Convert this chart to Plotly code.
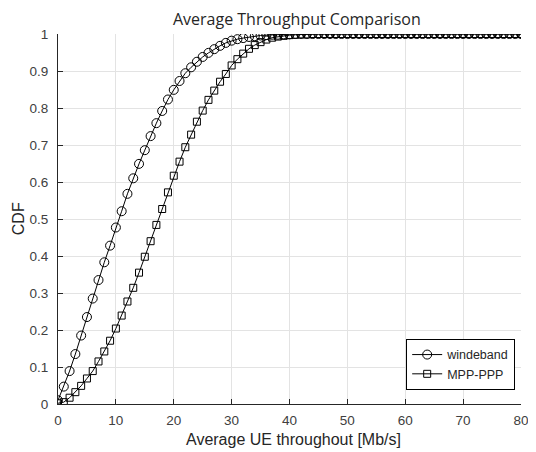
import plotly.graph_objects as go

x_vals = list(range(0, 81))

windeband = [0.010, 0.047, 0.089, 0.135, 0.185, 0.235, 0.285, 0.335, 0.383, 0.428,
             0.477, 0.521, 0.568, 0.610, 0.649, 0.686, 0.724, 0.759, 0.792, 0.823,
             0.849, 0.873, 0.894, 0.910, 0.925, 0.938, 0.949, 0.959, 0.968, 0.976,
             0.982, 0.986, 0.989, 0.992, 0.994, 0.996, 0.997, 0.998, 0.998, 0.999,
             0.999] + [1.0] * 40

mpp_ppp = [0.002, 0.005, 0.017, 0.032, 0.049, 0.069, 0.089, 0.115, 0.142, 0.171,
           0.204, 0.239, 0.277, 0.314, 0.355, 0.398, 0.440, 0.484, 0.527, 0.572,
           0.617, 0.655, 0.694, 0.728, 0.763, 0.793, 0.822, 0.847, 0.871, 0.892,
           0.915, 0.932, 0.947, 0.960, 0.970, 0.978, 0.985, 0.990, 0.993, 0.995,
           0.997, 0.998, 0.999, 0.999] + [1.0] * 37

x_ticks = list(range(0, 81, 10))
y_ticks = [round(i * 0.1, 1) for i in range(11)]
y_tick_labels = ["0", "0.1", "0.2", "0.3", "0.4", "0.5", "0.6", "0.7", "0.8", "0.9", "1"]

fig = go.Figure()
fig.add_trace(go.Scatter(
    x=x_vals, y=windeband, name="windeband", mode="lines+markers",
    line=dict(color="black", width=1),
    marker=dict(symbol="circle-open", size=9, color="black", line=dict(width=1)),
))
fig.add_trace(go.Scatter(
    x=x_vals, y=mpp_ppp, name="MPP-PPP", mode="lines+markers",
    line=dict(color="black", width=1),
    marker=dict(symbol="square-open", size=7, color="black", line=dict(width=1)),
))

axis_font = dict(family="Liberation Sans, Arial, sans-serif", size=13.5, color="#404040")
label_font = dict(family="Liberation Sans, Arial, sans-serif", size=16, color="#262626")

fig.update_layout(
    width=528, height=444,
    margin=dict(l=50, r=15, t=26, b=48, autoexpand=False),
    paper_bgcolor="white", plot_bgcolor="white",
    title=dict(text="Average Throughput Comparison", x=0.547, xanchor="center",
               y=0.975, yanchor="middle",
               font=dict(family="Open Sans, Noto Sans, sans-serif", size=16, color="#262626")),
    xaxis=dict(range=[0, 80], tickvals=x_ticks, showgrid=True, gridcolor="#e3e3e3",
               showline=True, linecolor="#262626", linewidth=1, mirror=False,
               ticks="inside", ticklen=5, tickcolor="#262626", zeroline=False,
               tickfont=axis_font, automargin=False, ticklabelstandoff=4,
               ticklabeloverflow="allow"),
    yaxis=dict(range=[0, 1], tickvals=y_ticks, ticktext=y_tick_labels, showgrid=True,
               gridcolor="#e3e3e3", showline=True, linecolor="#262626", linewidth=1,
               mirror=False, ticks="inside", ticklen=5, tickcolor="#262626", zeroline=False,
               tickfont=axis_font, automargin=False, ticklabelstandoff=6),
    annotations=[
        dict(text="Average UE throughout [Mb/s]", xref="paper", yref="paper",
             x=0.508, y=-0.095, xanchor="center", yanchor="middle", showarrow=False,
             font=label_font),
        dict(text="CDF", xref="paper", yref="paper", x=-0.086, y=0.5,
             xanchor="center", yanchor="middle", showarrow=False, textangle=-90,
             font=label_font),
    ],
    legend=dict(x=0.752, y=0.038, xanchor="left", yanchor="bottom",
                bgcolor="white", bordercolor="black", borderwidth=1,
                font=dict(family="Liberation Sans, Arial, sans-serif", size=12.5, color="#262626"),
                tracegroupgap=0, itemwidth=30),
    showlegend=True,
)

fig.write_html("out.html")
